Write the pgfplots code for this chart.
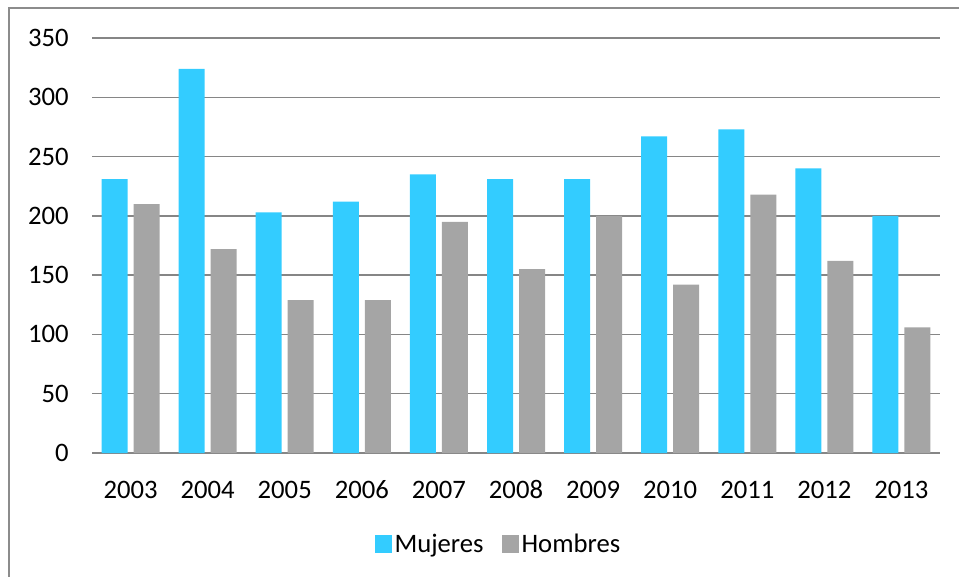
\documentclass[border=0pt]{standalone}
\usepackage{fontspec}
\setmainfont{Carlito}
\usepackage{pgfplots}
\pgfplotsset{compat=1.18}
\definecolor{muj}{HTML}{33CCFF}
\definecolor{hom}{HTML}{A5A5A5}
\definecolor{gridc}{HTML}{868686}
\definecolor{framec}{HTML}{8C8C8C}
\begin{document}
\begin{tikzpicture}[font=\fontsize{20}{24}\selectfont]
\path[use as bounding box] (0,0) rectangle (719.25pt,-432.75pt);
% outer chart frame (only left and top edges are visible)
\draw[framec,line width=0.9pt] (6.75pt,-432.75pt) -- (6.75pt,-6pt) -- (719.25pt,-6pt);
\begin{axis}[
  at={(69pt,-339.75pt)}, anchor=south west,
  scale only axis, width=636pt, height=311.25pt,
  ybar=4.5pt, bar width=19.5pt,
  xmin=-0.5, xmax=10.5, ymin=0, ymax=350,
  xtick={0,...,10},
  xticklabels={2003,2004,2005,2006,2007,2008,2009,2010,2011,2012,2013},
  ytick={0,50,...,350},
  axis line style={draw=none}, tick style={draw=none},
  ymajorgrids, grid style={gridc,line width=1pt},
  /pgf/number format/assume math mode=true,
  xticklabel style={yshift=-13pt},
  yticklabel style={xshift=-14pt},
  legend style={draw=none,at={(0.48,-0.219)},anchor=center,
    legend columns=2,/tikz/every even column/.append style={column sep=12pt}},
  legend image code/.code={\fill[#1] (0pt,-6.5pt) rectangle (12.5pt,6.5pt);},
]
\addplot[fill=muj,draw=none] coordinates {
  (0,231) (1,324) (2,203) (3,212) (4,235) (5,231)
  (6,231) (7,267) (8,273) (9,240) (10,200)};
\addplot[fill=hom,draw=none] coordinates {
  (0,210) (1,172) (2,129) (3,129) (4,195) (5,155)
  (6,200) (7,142) (8,218) (9,162) (10,106)};
\legend{Mujeres,Hombres}
\end{axis}
\end{tikzpicture}
\end{document}
